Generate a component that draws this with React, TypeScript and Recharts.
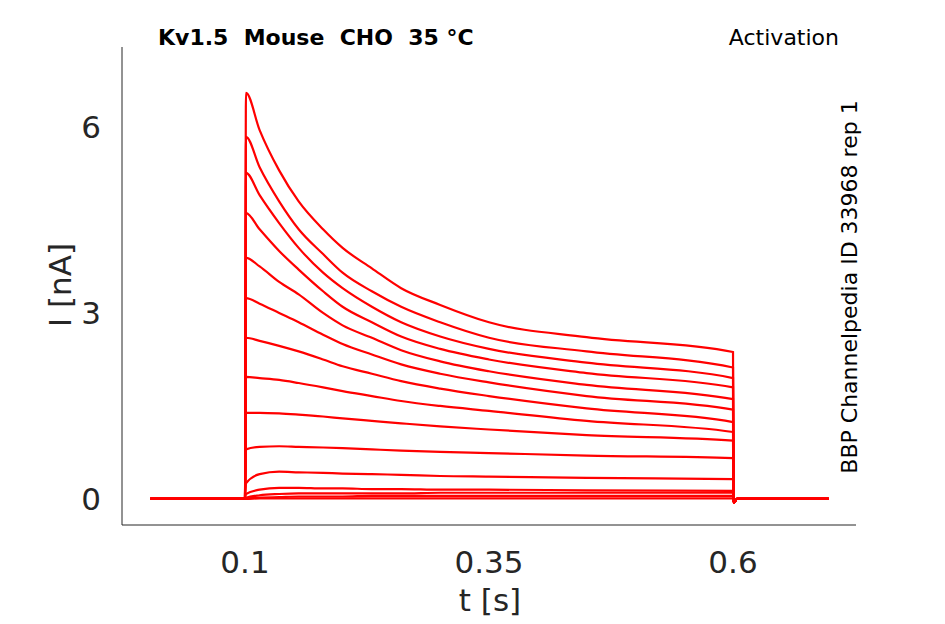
import React from "react";
import { LineChart, Line, XAxis, YAxis } from "recharts";

const times = [0.1, 0.101, 0.115, 0.135, 0.155, 0.18, 0.2, 0.23, 0.26, 0.3, 0.35, 0.45, 0.6];
const traces: number[][] = [
  [0, 6.55, 5.95, 5.3, 4.8, 4.35, 4.05, 3.72, 3.4, 3.13, 2.85, 2.61, 2.37],
  [0, 5.84, 5.35, 4.8, 4.35, 3.95, 3.65, 3.35, 3.1, 2.85, 2.6, 2.38, 2.12],
  [0, 5.26, 4.9, 4.45, 4.05, 3.65, 3.4, 3.1, 2.85, 2.62, 2.42, 2.2, 1.95],
  [0, 4.61, 4.35, 4.0, 3.7, 3.35, 3.1, 2.85, 2.62, 2.42, 2.25, 2.03, 1.8],
  [0, 3.89, 3.75, 3.5, 3.3, 3.0, 2.8, 2.6, 2.4, 2.22, 2.06, 1.84, 1.61],
  [0, 3.24, 3.15, 3.0, 2.85, 2.65, 2.5, 2.33, 2.17, 2.02, 1.88, 1.66, 1.44],
  [0, 2.6, 2.55, 2.47, 2.38, 2.25, 2.14, 2.02, 1.9, 1.78, 1.66, 1.46, 1.24],
  [0, 1.97, 1.95, 1.92, 1.87, 1.8, 1.74, 1.66, 1.58, 1.5, 1.42, 1.26, 1.08],
  [0, 1.39, 1.39, 1.38, 1.36, 1.33, 1.3, 1.26, 1.22, 1.17, 1.12, 1.03, 0.94],
  [0, 0.8, 0.84, 0.85, 0.84, 0.83, 0.82, 0.8, 0.78, 0.76, 0.74, 0.7, 0.66],
  [0, 0.25, 0.4, 0.44, 0.43, 0.42, 0.41, 0.4, 0.39, 0.37, 0.36, 0.34, 0.32],
  [0, 0.08, 0.15, 0.18, 0.18, 0.17, 0.17, 0.16, 0.16, 0.15, 0.15, 0.14, 0.13],
  [0, 0.02, 0.06, 0.08, 0.09, 0.09, 0.09, 0.09, 0.09, 0.1, 0.1, 0.1, 0.1],
  [0, 0.01, 0.02, 0.03, 0.04, 0.04, 0.04, 0.05, 0.05, 0.05, 0.05, 0.05, 0.05],
  [0, 0, 0.01, 0.01, 0.01, 0.01, 0.01, 0.01, 0.01, 0.01, 0.01, 0.01, 0.01],
];
const baseStart = 0.003;
const baseEnd = 0.698;
const xTicks = [0.1, 0.35, 0.6];
const yTicks = [0, 3, 6];

const buildTrace = (vals: number[]) => [
  { t: baseStart, i: 0 },
  { t: 0.0999, i: 0 },
  ...times.map((t, k) => ({ t, i: vals[k] })),
  { t: 0.6005, i: 0 },
  { t: 0.601, i: -0.06 },
  { t: 0.604, i: 0 },
  { t: baseEnd, i: 0 },
];

const tickStyle = { fontSize: 31, fill: "#262626", fontFamily: "DejaVu Sans" };

export default function App() {
  return (
    <div style={{ position: "absolute", left: 0, top: 0, width: 945, height: 624, background: "#fff", fontFamily: "DejaVu Sans" }}>
      <LineChart width={945} height={624} margin={{ top: 47, right: 89, left: 0, bottom: 0 }}>
        <XAxis
          type="number"
          dataKey="t"
          domain={[-0.026, 0.726]}
          ticks={xTicks}
          tickLine={false}
          tick={tickStyle}
          tickMargin={20}
          height={99}
          stroke="#262626"
          allowDataOverflow
        />
        <YAxis
          type="number"
          dataKey="i"
          domain={[-0.42, 7.29]}
          ticks={yTicks}
          tickLine={false}
          tick={tickStyle}
          tickMargin={15}
          width={122}
          stroke="#262626"
          allowDataOverflow
        />
        {traces.map((vals, k) => (
          <Line
            key={k}
            data={buildTrace(vals)}
            dataKey="i"
            type="monotone"
            stroke="#ff0000"
            strokeWidth={2.2}
            dot={false}
            isAnimationActive={false}
          />
        ))}
      </LineChart>
      <div style={{ position: "absolute", left: 158, top: 25, fontSize: 22, fontWeight: "bold", color: "#000", whiteSpace: "pre" }}>
        Kv1.5  Mouse  CHO  35 °C
      </div>
      <div style={{ position: "absolute", right: 106, top: 25, fontSize: 22, color: "#000" }}>Activation</div>
      <div style={{ position: "absolute", left: 280, top: 582, width: 420, textAlign: "center", fontSize: 31, color: "#262626" }}>t [s]</div>
      <div style={{ position: "absolute", left: 60, top: 285, fontSize: 31, color: "#262626", transform: "translate(-50%,-50%) rotate(-90deg)", whiteSpace: "nowrap" }}>
        I [nA]
      </div>
      <div style={{ position: "absolute", left: 849, top: 287, fontSize: 22, color: "#000", transform: "translate(-50%,-50%) rotate(-90deg)", whiteSpace: "nowrap" }}>
        BBP Channelpedia ID 33968 rep 1
      </div>
    </div>
  );
}
